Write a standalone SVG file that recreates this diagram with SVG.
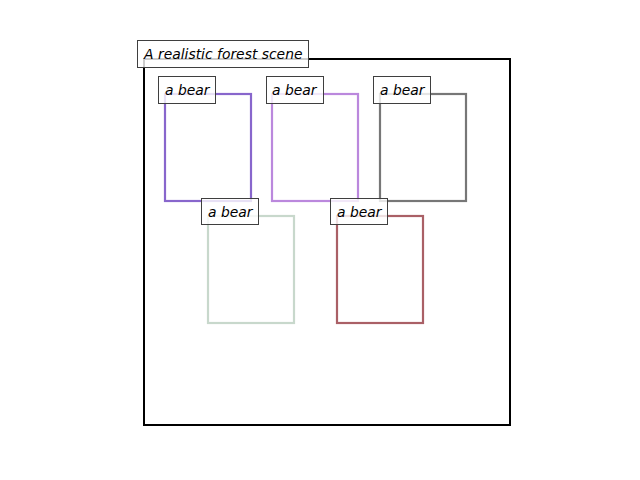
<svg xmlns="http://www.w3.org/2000/svg" width="640" height="480" viewBox="0 0 640 480">
<style>
.lbl{fill:#ffffff;fill-opacity:0.8;stroke:#3f3f3f;stroke-width:1}
.t{font-family:"DejaVu Sans",sans-serif;font-style:oblique;font-size:13.9px;fill:#000}
.b{fill:none;stroke-width:2.2}
</style>
<rect width="640" height="480" fill="#fff"/>
<g id="scene">
<rect x="144" y="59" width="366" height="366" fill="none" stroke="#000" stroke-width="2"/>
</g>
<g id="bear1"><rect class="b" x="165" y="94" width="86" height="107" stroke="#8866cc"/></g>
<g id="bear2"><rect class="b" x="272" y="94" width="86" height="107" stroke="#bb88dd"/></g>
<g id="bear3"><rect class="b" x="380" y="94" width="86" height="107" stroke="#777777"/></g>
<g id="bear4"><rect class="b" x="208" y="216" width="86" height="107" stroke="#c8d8cc"/></g>
<g id="bear5"><rect class="b" x="337" y="216" width="86" height="107" stroke="#aa6066"/></g>
<g id="labels">
<rect class="lbl" x="137.5" y="40.5" width="171" height="27"/>
<text class="t" x="144" y="58.5">A realistic forest scene</text>
<rect class="lbl" x="158.5" y="76.5" width="57" height="27"/>
<text class="t" x="165" y="94.5">a bear</text>
<rect class="lbl" x="266.5" y="76.5" width="57" height="27"/>
<text class="t" x="272" y="94.5">a bear</text>
<rect class="lbl" x="373.5" y="76.5" width="57" height="27"/>
<text class="t" x="380" y="94.5">a bear</text>
<rect class="lbl" x="201.5" y="198.5" width="57" height="26"/>
<text class="t" x="208" y="216.5">a bear</text>
<rect class="lbl" x="330.5" y="198.5" width="57" height="26"/>
<text class="t" x="337" y="216.5">a bear</text>
</g>
</svg>
